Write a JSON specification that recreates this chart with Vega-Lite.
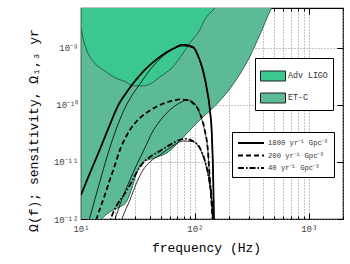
{
  "$schema": "https://vega.github.io/schema/vega-lite/v6.json",
  "width": 262,
  "height": 211,
  "autosize": "none",
  "padding": {"left": 81, "top": 8, "right": 7, "bottom": 45},
  "background": "white",
  "config": {
    "view": {"stroke": "black", "strokeWidth": 1.2},
    "font": "Liberation Mono",
    "axis": {
      "zindex": 1, "domain": false, "tickColor": "black", "tickWidth": 1,
      "labelFont": "Liberation Mono", "labelColor": "#444", "labelFontSize": 9,
      "titleFont": "Liberation Mono", "titleFontWeight": "normal", "titleColor": "black", "titleFontSize": 13,
      "gridColor": "#888", "gridDash": [1, 2], "gridOpacity": 1, "labelFlush": false, "labelOverlap": false
    },
    "legend": {
      "orient": "none", "strokeColor": "black", "fillColor": "white", "padding": 5,
      "labelFont": "Liberation Mono", "labelColor": "#333", "labelOffset": 2, "cornerRadius": 0
    }
  },
  "datasets": {
    "sens": [
      {"detector": "ET-C", "f": 10, "omega": 1e-13},
      {"detector": "ET-C", "f": 13.8, "omega": 8e-13},
      {"detector": "ET-C", "f": 15.2, "omega": 1e-12},
      {"detector": "ET-C", "f": 16.9, "omega": 1.22e-12},
      {"detector": "ET-C", "f": 19.1, "omega": 1.44e-12},
      {"detector": "ET-C", "f": 22.0, "omega": 1.63e-12},
      {"detector": "ET-C", "f": 25.3, "omega": 2.07e-12},
      {"detector": "ET-C", "f": 28.6, "omega": 3.95e-12},
      {"detector": "ET-C", "f": 31.0, "omega": 6.7e-12},
      {"detector": "ET-C", "f": 32.9, "omega": 8.5e-12},
      {"detector": "ET-C", "f": 35.3, "omega": 1.02e-11},
      {"detector": "ET-C", "f": 40.3, "omega": 1.11e-11},
      {"detector": "ET-C", "f": 49.3, "omega": 1.27e-11},
      {"detector": "ET-C", "f": 56.8, "omega": 1.44e-11},
      {"detector": "ET-C", "f": 73.8, "omega": 2.33e-11},
      {"detector": "ET-C", "f": 96, "omega": 4.1e-11},
      {"detector": "ET-C", "f": 110.6, "omega": 5.45e-11},
      {"detector": "ET-C", "f": 144, "omega": 8.85e-11},
      {"detector": "ET-C", "f": 215, "omega": 2.24e-10},
      {"detector": "ET-C", "f": 303, "omega": 6.95e-10},
      {"detector": "ET-C", "f": 372, "omega": 1.69e-9},
      {"detector": "ET-C", "f": 471, "omega": 5.0e-9},
      {"detector": "ET-C", "f": 514, "omega": 7e-9},
      {"detector": "Adv LIGO", "f": 10, "omega": 2.33e-9},
      {"detector": "Adv LIGO", "f": 10.5, "omega": 1.38e-9},
      {"detector": "Adv LIGO", "f": 11.2, "omega": 9.2e-10},
      {"detector": "Adv LIGO", "f": 12.8, "omega": 5.75e-10},
      {"detector": "Adv LIGO", "f": 15.7, "omega": 4.1e-10},
      {"detector": "Adv LIGO", "f": 19.2, "omega": 3.13e-10},
      {"detector": "Adv LIGO", "f": 22.0, "omega": 2.75e-10},
      {"detector": "Adv LIGO", "f": 24.3, "omega": 2.57e-10},
      {"detector": "Adv LIGO", "f": 28.8, "omega": 2.16e-10},
      {"detector": "Adv LIGO", "f": 35.2, "omega": 2.16e-10},
      {"detector": "Adv LIGO", "f": 41.7, "omega": 2.4e-10},
      {"detector": "Adv LIGO", "f": 49.3, "omega": 3.1e-10},
      {"detector": "Adv LIGO", "f": 64.6, "omega": 4.7e-10},
      {"detector": "Adv LIGO", "f": 78.9, "omega": 8.1e-10},
      {"detector": "Adv LIGO", "f": 90.3, "omega": 1.21e-9},
      {"detector": "Adv LIGO", "f": 110.6, "omega": 2.07e-9},
      {"detector": "Adv LIGO", "f": 122, "omega": 3.1e-9},
      {"detector": "Adv LIGO", "f": 135.5, "omega": 4.06e-9},
      {"detector": "Adv LIGO", "f": 150, "omega": 5.0e-9},
      {"detector": "Adv LIGO", "f": 165, "omega": 7e-9}
    ],
    "curves": [
      {"model": "1800 yr⁻¹ Gpc⁻³", "kind": "thick", "f": 10, "omega": 2.64e-12},
      {"model": "1800 yr⁻¹ Gpc⁻³", "kind": "thick", "f": 11.5, "omega": 5.24e-12},
      {"model": "1800 yr⁻¹ Gpc⁻³", "kind": "thick", "f": 14.7, "omega": 1.69e-11},
      {"model": "1800 yr⁻¹ Gpc⁻³", "kind": "thick", "f": 17.9, "omega": 4.46e-11},
      {"model": "1800 yr⁻¹ Gpc⁻³", "kind": "thick", "f": 21.1, "omega": 9.6e-11},
      {"model": "1800 yr⁻¹ Gpc⁻³", "kind": "thick", "f": 25.3, "omega": 1.69e-10},
      {"model": "1800 yr⁻¹ Gpc⁻³", "kind": "thick", "f": 35.0, "omega": 3.8e-10},
      {"model": "1800 yr⁻¹ Gpc⁻³", "kind": "thick", "f": 49.3, "omega": 6.95e-10},
      {"model": "1800 yr⁻¹ Gpc⁻³", "kind": "thick", "f": 64.1, "omega": 9.6e-10},
      {"model": "1800 yr⁻¹ Gpc⁻³", "kind": "thick", "f": 78.5, "omega": 1.13e-9},
      {"model": "1800 yr⁻¹ Gpc⁻³", "kind": "thick", "f": 96, "omega": 1.04e-9},
      {"model": "1800 yr⁻¹ Gpc⁻³", "kind": "thick", "f": 106, "omega": 7.5e-10},
      {"model": "1800 yr⁻¹ Gpc⁻³", "kind": "thick", "f": 117.5, "omega": 4.1e-10},
      {"model": "1800 yr⁻¹ Gpc⁻³", "kind": "thick", "f": 127, "omega": 1.99e-10},
      {"model": "1800 yr⁻¹ Gpc⁻³", "kind": "thick", "f": 135.5, "omega": 8.2e-11},
      {"model": "1800 yr⁻¹ Gpc⁻³", "kind": "thick", "f": 141, "omega": 2.98e-11},
      {"model": "1800 yr⁻¹ Gpc⁻³", "kind": "thick", "f": 145, "omega": 4.8e-12},
      {"model": "1800 yr⁻¹ Gpc⁻³", "kind": "thick", "f": 148, "omega": 4e-13},
      {"model": "1800 yr⁻¹ Gpc⁻³", "kind": "thin", "f": 11.4, "omega": 7.5e-13},
      {"model": "1800 yr⁻¹ Gpc⁻³", "kind": "thin", "f": 14.7, "omega": 4.64e-12},
      {"model": "1800 yr⁻¹ Gpc⁻³", "kind": "thin", "f": 16.9, "omega": 1.22e-11},
      {"model": "1800 yr⁻¹ Gpc⁻³", "kind": "thin", "f": 20.7, "omega": 4.1e-11},
      {"model": "1800 yr⁻¹ Gpc⁻³", "kind": "thin", "f": 24.3, "omega": 8.85e-11},
      {"model": "1800 yr⁻¹ Gpc⁻³", "kind": "thin", "f": 28.6, "omega": 1.56e-10},
      {"model": "1800 yr⁻¹ Gpc⁻³", "kind": "thin", "f": 32.9, "omega": 2.33e-10},
      {"model": "1800 yr⁻¹ Gpc⁻³", "kind": "thin", "f": 40.3, "omega": 4.1e-10},
      {"model": "1800 yr⁻¹ Gpc⁻³", "kind": "thin", "f": 49.3, "omega": 6.4e-10},
      {"model": "1800 yr⁻¹ Gpc⁻³", "kind": "thin", "f": 60.4, "omega": 8.85e-10},
      {"model": "1800 yr⁻¹ Gpc⁻³", "kind": "thin", "f": 78.5, "omega": 1.08e-9},
      {"model": "1800 yr⁻¹ Gpc⁻³", "kind": "thin", "f": 96, "omega": 1.0e-9},
      {"model": "1800 yr⁻¹ Gpc⁻³", "kind": "thin", "f": 106, "omega": 7.2e-10},
      {"model": "1800 yr⁻¹ Gpc⁻³", "kind": "thin", "f": 117.5, "omega": 3.9e-10},
      {"model": "1800 yr⁻¹ Gpc⁻³", "kind": "thin", "f": 127, "omega": 1.9e-10},
      {"model": "1800 yr⁻¹ Gpc⁻³", "kind": "thin", "f": 135.5, "omega": 7.9e-11},
      {"model": "1800 yr⁻¹ Gpc⁻³", "kind": "thin", "f": 141, "omega": 2.85e-11},
      {"model": "1800 yr⁻¹ Gpc⁻³", "kind": "thin", "f": 145, "omega": 4.6e-12},
      {"model": "1800 yr⁻¹ Gpc⁻³", "kind": "thin", "f": 148, "omega": 4e-13},
      {"model": "200 yr⁻¹ Gpc⁻³", "kind": "thick", "f": 13.0, "omega": 7e-13},
      {"model": "200 yr⁻¹ Gpc⁻³", "kind": "thick", "f": 13.7, "omega": 1e-12},
      {"model": "200 yr⁻¹ Gpc⁻³", "kind": "thick", "f": 16.2, "omega": 2.64e-12},
      {"model": "200 yr⁻¹ Gpc⁻³", "kind": "thick", "f": 17.9, "omega": 4.83e-12},
      {"model": "200 yr⁻¹ Gpc⁻³", "kind": "thick", "f": 19.2, "omega": 7.2e-12},
      {"model": "200 yr⁻¹ Gpc⁻³", "kind": "thick", "f": 22.0, "omega": 1.63e-11},
      {"model": "200 yr⁻¹ Gpc⁻³", "kind": "thick", "f": 26.9, "omega": 3.64e-11},
      {"model": "200 yr⁻¹ Gpc⁻³", "kind": "thick", "f": 32.9, "omega": 5.9e-11},
      {"model": "200 yr⁻¹ Gpc⁻³", "kind": "thick", "f": 40.3, "omega": 8.0e-11},
      {"model": "200 yr⁻¹ Gpc⁻³", "kind": "thick", "f": 49.3, "omega": 1.0e-10},
      {"model": "200 yr⁻¹ Gpc⁻³", "kind": "thick", "f": 60.4, "omega": 1.15e-10},
      {"model": "200 yr⁻¹ Gpc⁻³", "kind": "thick", "f": 73.8, "omega": 1.25e-10},
      {"model": "200 yr⁻¹ Gpc⁻³", "kind": "thick", "f": 83.3, "omega": 1.22e-10},
      {"model": "200 yr⁻¹ Gpc⁻³", "kind": "thick", "f": 96, "omega": 1.08e-10},
      {"model": "200 yr⁻¹ Gpc⁻³", "kind": "thick", "f": 110.6, "omega": 7.2e-11},
      {"model": "200 yr⁻¹ Gpc⁻³", "kind": "thick", "f": 122, "omega": 3.64e-11},
      {"model": "200 yr⁻¹ Gpc⁻³", "kind": "thick", "f": 130, "omega": 1.63e-11},
      {"model": "200 yr⁻¹ Gpc⁻³", "kind": "thick", "f": 135.5, "omega": 4.8e-12},
      {"model": "200 yr⁻¹ Gpc⁻³", "kind": "thick", "f": 143, "omega": 1e-12},
      {"model": "200 yr⁻¹ Gpc⁻³", "kind": "thick", "f": 146, "omega": 5e-13},
      {"model": "200 yr⁻¹ Gpc⁻³", "kind": "thin", "f": 19.1, "omega": 8e-13},
      {"model": "200 yr⁻¹ Gpc⁻³", "kind": "thin", "f": 19.9, "omega": 1e-12},
      {"model": "200 yr⁻¹ Gpc⁻³", "kind": "thin", "f": 22.9, "omega": 2.24e-12},
      {"model": "200 yr⁻¹ Gpc⁻³", "kind": "thin", "f": 26.9, "omega": 4.83e-12},
      {"model": "200 yr⁻¹ Gpc⁻³", "kind": "thin", "f": 30.8, "omega": 8.85e-12},
      {"model": "200 yr⁻¹ Gpc⁻³", "kind": "thin", "f": 36.4, "omega": 1.76e-11},
      {"model": "200 yr⁻¹ Gpc⁻³", "kind": "thin", "f": 42.0, "omega": 3.23e-11},
      {"model": "200 yr⁻¹ Gpc⁻³", "kind": "thin", "f": 49.3, "omega": 5.24e-11},
      {"model": "200 yr⁻¹ Gpc⁻³", "kind": "thin", "f": 60.4, "omega": 8.2e-11},
      {"model": "200 yr⁻¹ Gpc⁻³", "kind": "thin", "f": 73.8, "omega": 1.08e-10},
      {"model": "200 yr⁻¹ Gpc⁻³", "kind": "thin", "f": 85.1, "omega": 1.22e-10},
      {"model": "200 yr⁻¹ Gpc⁻³", "kind": "thin", "f": 96, "omega": 1.13e-10},
      {"model": "200 yr⁻¹ Gpc⁻³", "kind": "thin", "f": 110.6, "omega": 7.0e-11},
      {"model": "200 yr⁻¹ Gpc⁻³", "kind": "thin", "f": 122, "omega": 3.5e-11},
      {"model": "200 yr⁻¹ Gpc⁻³", "kind": "thin", "f": 130, "omega": 1.6e-11},
      {"model": "200 yr⁻¹ Gpc⁻³", "kind": "thin", "f": 135.5, "omega": 4.7e-12},
      {"model": "200 yr⁻¹ Gpc⁻³", "kind": "thin", "f": 143, "omega": 1e-12},
      {"model": "200 yr⁻¹ Gpc⁻³", "kind": "thin", "f": 146, "omega": 5e-13},
      {"model": "40 yr⁻¹ Gpc⁻³", "kind": "thick", "f": 17.5, "omega": 7e-13},
      {"model": "40 yr⁻¹ Gpc⁻³", "kind": "thick", "f": 18.3, "omega": 1e-12},
      {"model": "40 yr⁻¹ Gpc⁻³", "kind": "thick", "f": 20.7, "omega": 1.76e-12},
      {"model": "40 yr⁻¹ Gpc⁻³", "kind": "thick", "f": 23.8, "omega": 2.64e-12},
      {"model": "40 yr⁻¹ Gpc⁻³", "kind": "thick", "f": 26.9, "omega": 3.95e-12},
      {"model": "40 yr⁻¹ Gpc⁻³", "kind": "thick", "f": 31.0, "omega": 6.7e-12},
      {"model": "40 yr⁻¹ Gpc⁻³", "kind": "thick", "f": 35.0, "omega": 9.6e-12},
      {"model": "40 yr⁻¹ Gpc⁻³", "kind": "thick", "f": 40.3, "omega": 1.22e-11},
      {"model": "40 yr⁻¹ Gpc⁻³", "kind": "thick", "f": 49.3, "omega": 1.56e-11},
      {"model": "40 yr⁻¹ Gpc⁻³", "kind": "thick", "f": 60.4, "omega": 1.99e-11},
      {"model": "40 yr⁻¹ Gpc⁻³", "kind": "thick", "f": 73.8, "omega": 2.43e-11},
      {"model": "40 yr⁻¹ Gpc⁻³", "kind": "thick", "f": 83.3, "omega": 2.53e-11},
      {"model": "40 yr⁻¹ Gpc⁻³", "kind": "thick", "f": 96, "omega": 2.33e-11},
      {"model": "40 yr⁻¹ Gpc⁻³", "kind": "thick", "f": 110.6, "omega": 1.76e-11},
      {"model": "40 yr⁻¹ Gpc⁻³", "kind": "thick", "f": 122, "omega": 1.08e-11},
      {"model": "40 yr⁻¹ Gpc⁻³", "kind": "thick", "f": 132.8, "omega": 5.2e-12},
      {"model": "40 yr⁻¹ Gpc⁻³", "kind": "thick", "f": 141, "omega": 2.15e-12},
      {"model": "40 yr⁻¹ Gpc⁻³", "kind": "thick", "f": 145, "omega": 1e-12},
      {"model": "40 yr⁻¹ Gpc⁻³", "kind": "thick", "f": 147, "omega": 5e-13},
      {"model": "40 yr⁻¹ Gpc⁻³", "kind": "thin", "f": 22.0, "omega": 7.8e-13},
      {"model": "40 yr⁻¹ Gpc⁻³", "kind": "thin", "f": 22.9, "omega": 1e-12},
      {"model": "40 yr⁻¹ Gpc⁻³", "kind": "thin", "f": 26.9, "omega": 2.15e-12},
      {"model": "40 yr⁻¹ Gpc⁻³", "kind": "thin", "f": 31.0, "omega": 4.46e-12},
      {"model": "40 yr⁻¹ Gpc⁻³", "kind": "thin", "f": 35.0, "omega": 7.2e-12},
      {"model": "40 yr⁻¹ Gpc⁻³", "kind": "thin", "f": 40.3, "omega": 1e-11},
      {"model": "40 yr⁻¹ Gpc⁻³", "kind": "thin", "f": 49.3, "omega": 1.33e-11},
      {"model": "40 yr⁻¹ Gpc⁻³", "kind": "thin", "f": 64.1, "omega": 1.91e-11},
      {"model": "40 yr⁻¹ Gpc⁻³", "kind": "thin", "f": 78.5, "omega": 2.33e-11},
      {"model": "40 yr⁻¹ Gpc⁻³", "kind": "thin", "f": 96, "omega": 2.27e-11},
      {"model": "40 yr⁻¹ Gpc⁻³", "kind": "thin", "f": 110.6, "omega": 1.7e-11},
      {"model": "40 yr⁻¹ Gpc⁻³", "kind": "thin", "f": 122, "omega": 1.04e-11},
      {"model": "40 yr⁻¹ Gpc⁻³", "kind": "thin", "f": 132.8, "omega": 5.0e-12},
      {"model": "40 yr⁻¹ Gpc⁻³", "kind": "thin", "f": 141, "omega": 2.1e-12},
      {"model": "40 yr⁻¹ Gpc⁻³", "kind": "thin", "f": 145, "omega": 1e-12},
      {"model": "40 yr⁻¹ Gpc⁻³", "kind": "thin", "f": 147, "omega": 5e-13}
    ]
  },
  "layer": [
    {
      "layer": [
        {
          "data": {"name": "sens"},
          "transform": [{"filter": "datum.detector == 'ET-C'"}],
          "mark": {"type": "area", "clip": true, "stroke": "#1e4d3a", "strokeWidth": 0.8, "opacity": 1, "interpolate": "monotone"},
          "encoding": {
            "x": {"field": "f", "type": "quantitative", "scale": {"type": "log", "domain": [10, 2000], "nice": false},
              "axis": {
                "values": [10, 20, 30, 40, 50, 60, 70, 80, 90, 100, 200, 300, 400, 500, 600, 700, 800, 900, 1000, 2000],
                "labelExpr": "datum.value == 10 ? '10¹' : datum.value == 100 ? '10²' : datum.value == 1000 ? '10³' : ''",
                "tickSize": {"condition": {"test": "datum.value == 10 || datum.value == 100 || datum.value == 1000", "value": -6}, "value": -3},
                "grid": true, "labelPadding": 11,
                "title": "frequency (Hz)", "titlePadding": 5, "titleX": 125
              }},
            "y": {"field": "omega", "type": "quantitative", "scale": {"type": "log", "domain": [1e-12, 5e-9], "nice": false},
              "axis": {
                "values": [1e-12, 1e-11, 1e-10, 1e-9],
                "labelExpr": "datum.value < 5e-12 ? '10⁻¹²' : datum.value < 5e-11 ? '10⁻¹¹' : datum.value < 5e-10 ? '10⁻¹⁰' : '10⁻⁹'",
                "tickSize": -6, "grid": true, "labelPadding": 9,
                "title": "Ω(f); sensitivity, Ω₁,₃ yr", "titleX": -44, "titleY": 122, "titleBaseline": "alphabetic",
                "encode": {"title": {"update": {"x": {"value": -44}}}}
              }},
            "y2": {"datum": 1e-8},
            "fill": {"field": "detector", "type": "nominal",
              "scale": {"domain": ["Adv LIGO", "ET-C"], "range": ["#3CC690", "#5DBA97"]},
              "legend": {"title": null, "orient": "none", "legendX": 174, "legendY": 50,
                "symbolType": "M-1,-0.4H1V0.4H-1Z", "symbolSize": 625, "symbolStrokeColor": "#222", "symbolStrokeWidth": 1,
                "rowPadding": 2, "labelFontSize": 8.3}}
          }
        },
        {
          "data": {"name": "sens"},
          "transform": [{"filter": "datum.detector == 'Adv LIGO'"}],
          "mark": {"type": "area", "clip": true, "stroke": "#1e4d3a", "strokeWidth": 0.8, "opacity": 1, "interpolate": "monotone"},
          "encoding": {
            "x": {"field": "f", "type": "quantitative", "scale": {"type": "log", "domain": [10, 2000], "nice": false}},
            "y": {"field": "omega", "type": "quantitative", "scale": {"type": "log", "domain": [1e-12, 5e-9], "nice": false}},
            "y2": {"datum": 1e-8},
            "fill": {"field": "detector", "type": "nominal"}
          }
        },
        {
          "data": {"name": "curves"},
          "transform": [{"filter": "datum.kind == 'thin'"}],
          "mark": {"type": "line", "clip": true, "color": "black", "strokeWidth": 0.8, "interpolate": "monotone"},
          "encoding": {
            "x": {"field": "f", "type": "quantitative", "scale": {"type": "log", "domain": [10, 2000], "nice": false}},
            "y": {"field": "omega", "type": "quantitative", "scale": {"type": "log", "domain": [1e-12, 5e-9], "nice": false}},
            "detail": {"field": "model", "type": "nominal"}
          }
        },
        {
          "data": {"name": "curves"},
          "transform": [{"filter": "datum.kind == 'thick'"}],
          "mark": {"type": "line", "clip": true, "color": "black", "strokeWidth": 1.8, "interpolate": "monotone"},
          "encoding": {
            "x": {"field": "f", "type": "quantitative", "scale": {"type": "log", "domain": [10, 2000], "nice": false}},
            "y": {"field": "omega", "type": "quantitative", "scale": {"type": "log", "domain": [1e-12, 5e-9], "nice": false}},
            "strokeDash": {"field": "model", "type": "nominal",
              "scale": {"domain": ["1800 yr⁻¹ Gpc⁻³", "200 yr⁻¹ Gpc⁻³", "40 yr⁻¹ Gpc⁻³"], "range": [[1, 0], [5, 3], [6, 2, 1.5, 2]]},
              "legend": {"title": null, "orient": "none", "legendX": 151, "legendY": 124,
                "symbolType": "M-1,0H4.2", "symbolSize": 100, "symbolStrokeWidth": 2, "symbolStrokeColor": "black",
                "labelOffset": 19, "rowPadding": 2.5, "labelFontSize": 7.2}}
          }
        }
      ]
    },
    {
      "data": {"name": "sens"},
      "mark": {"type": "point", "opacity": 0},
      "encoding": {
        "x": {"field": "f", "type": "quantitative", "scale": {"type": "log", "domain": [10, 2000], "nice": false},
          "axis": {"orient": "top", "values": [10, 20, 30, 40, 50, 60, 70, 80, 90, 100, 200, 300, 400, 500, 600, 700, 800, 900, 1000, 2000],
            "labels": false, "grid": false, "title": null,
            "tickSize": {"condition": {"test": "datum.value == 10 || datum.value == 100 || datum.value == 1000", "value": -6}, "value": -3}}},
        "y": {"field": "omega", "type": "quantitative", "scale": {"type": "log", "domain": [1e-12, 5e-9], "nice": false},
          "axis": {"orient": "right", "values": [1e-12, 1e-11, 1e-10, 1e-9], "labels": false, "grid": false, "title": null, "tickSize": -6}}
      }
    }
  ],
  "resolve": {"axis": {"x": "independent", "y": "independent"}}
}
